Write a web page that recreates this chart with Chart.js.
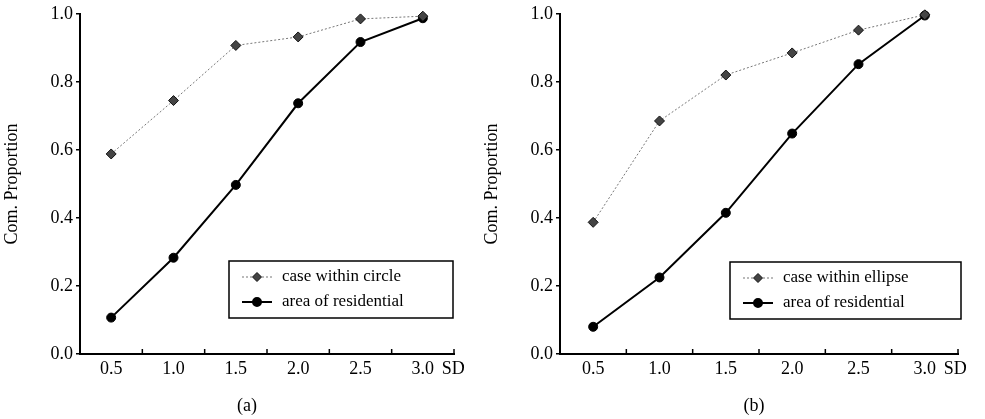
<!DOCTYPE html>
<html>
<head>
<meta charset="utf-8">
<script src="https://cdn.jsdelivr.net/npm/chart.js@4.4.1/dist/chart.umd.min.js"></script>
<style>
  html, body { margin: 0; padding: 0; background: #fff; }
  #wrapA { position: absolute; left: 0; top: 0; width: 480px; height: 419px; }
  #wrapB { position: absolute; left: 480px; top: 0; width: 505px; height: 419px; }
</style>
</head>
<body>
<div id="wrapA"><canvas id="chartA"></canvas></div>
<div id="wrapB"><canvas id="chartB"></canvas></div>
<script>
// values
const sdValues = [0.5, 1.0, 1.5, 2.0, 2.5, 3.0];
const circleCases = [0.588, 0.745, 0.907, 0.932, 0.985, 0.993];
const circleResidential = [0.107, 0.283, 0.497, 0.737, 0.917, 0.987];
const ellipseCases = [0.387, 0.685, 0.820, 0.885, 0.952, 0.997];
const ellipseResidential = [0.080, 0.225, 0.415, 0.648, 0.852, 0.995];
const yTicks = [0, 0.2, 0.4, 0.6, 0.8, 1.0];
const xLabelTicks = [0.5, 1.0, 1.5, 2.0, 2.5, 3.0];
const xMinorTicks = [0.75, 1.25, 1.75, 2.25, 2.75, 3.25];

const FONT = 'Liberation Serif';

const toPoints = vals => vals.map((v, i) => ({ x: sdValues[i], y: v }));

// extra marks: upward minor ticks on x axis, "SD" unit, panel tag, boxed legend
const figureExtras = {
  id: 'figureExtras',
  afterDraw(chart, args, opts) {
    const ctx = chart.ctx;
    const x = chart.scales.x;
    const bottom = chart.chartArea.bottom;
    ctx.save();
    ctx.strokeStyle = '#000';
    ctx.lineWidth = 1.5;
    xMinorTicks.forEach(v => {
      const px = x.getPixelForValue(v);
      ctx.beginPath();
      ctx.moveTo(px, bottom);
      ctx.lineTo(px, bottom - 5);
      ctx.stroke();
    });

    ctx.fillStyle = '#000';
    ctx.font = '18px "' + FONT + '"';
    ctx.textBaseline = 'middle';
    ctx.textAlign = 'left';
    ctx.fillText('SD', x.getPixelForValue(3.0) + 19, bottom + 15);
    ctx.textAlign = 'center';
    ctx.fillText(opts.tag, opts.tagX, 406);

    // legend box
    const lg = opts.legend;
    ctx.font = '17px "' + FONT + '"';
    ctx.lineWidth = 1.5;
    ctx.strokeRect(lg.x, lg.y, lg.w, lg.h);
    chart.data.datasets.forEach((ds, i) => {
      const ly = lg.y + 16 + i * 25;
      ctx.beginPath();
      ctx.setLineDash(ds.borderDash || []);
      ctx.strokeStyle = ds.borderColor;
      ctx.lineWidth = ds.borderWidth;
      ctx.moveTo(lg.x + 13, ly);
      ctx.lineTo(lg.x + 43, ly);
      ctx.stroke();
      ctx.setLineDash([]);
      ctx.fillStyle = ds.pointBackgroundColor;
      ctx.strokeStyle = ds.pointBorderColor;
      Chart.helpers.drawPoint(ctx, {
        pointStyle: ds.pointStyle, radius: ds.pointRadius - 0.5, borderWidth: 1, rotation: 0
      }, lg.x + 28, ly);
      ctx.fillStyle = '#000';
      ctx.textAlign = 'left';
      ctx.fillText(ds.label, lg.x + 53, ly);
    });
    ctx.restore();
  }
};

function makeChart(id, caseLabel, caseVals, resVals, extras, padRight) {
  return new Chart(document.getElementById(id), {
    type: 'line',
    data: {
      datasets: [{
        label: caseLabel,
        data: toPoints(caseVals),
        borderColor: '#777',
        borderWidth: 1,
        borderDash: [2, 2],
        pointStyle: 'rectRot',
        pointRadius: 5,
        pointBackgroundColor: '#444',
        pointBorderColor: '#111',
        pointBorderWidth: 1,
        clip: false
      }, {
        label: 'area of residential',
        data: toPoints(resVals),
        borderColor: '#000',
        borderWidth: 2,
        pointStyle: 'circle',
        pointRadius: 4.5,
        pointBackgroundColor: '#000',
        pointBorderColor: '#000',
        pointBorderWidth: 1,
        clip: false
      }]
    },
    options: {
      responsive: true,
      maintainAspectRatio: false,
      animation: false,
      layout: { padding: { left: 0, right: padRight, top: 13, bottom: 0 } },
      plugins: {
        legend: { display: false },
        tooltip: { enabled: false },
        figureExtras: extras
      },
      scales: {
        x: {
          type: 'linear',
          min: 0.25,
          max: 3.25,
          afterBuildTicks: s => { s.ticks = xLabelTicks.map(v => ({ value: v })); },
          afterFit: s => { s.height = 65; },
          grid: { drawOnChartArea: false, drawTicks: false },
          border: { color: '#000', width: 2 },
          ticks: {
            color: '#000',
            padding: 4,
            maxRotation: 0,
            font: { family: FONT, size: 18 },
            callback: v => v.toFixed(1)
          }
        },
        y: {
          min: 0,
          max: 1,
          afterBuildTicks: s => { s.ticks = yTicks.map(v => ({ value: v })); },
          afterFit: s => { s.width = 80; },
          grid: { drawOnChartArea: false, tickLength: 4, color: '#000', lineWidth: 1.5 },
          border: { color: '#000', width: 2 },
          ticks: {
            color: '#000',
            padding: 3,
            font: { family: FONT, size: 18 },
            callback: v => v.toFixed(1)
          },
          title: {
            display: true,
            text: 'Com. Proportion',
            color: '#000',
            padding: { top: 1, bottom: 0 },
            font: { family: FONT, size: 18 }
          }
        }
      }
    },
    plugins: [figureExtras]
  });
}

makeChart('chartA', 'case within circle', circleCases, circleResidential,
  { tag: '(a)', tagX: 247, legend: { x: 229, y: 261, w: 224, h: 57 } }, 26);
makeChart('chartB', 'case within ellipse', ellipseCases, ellipseResidential,
  { tag: '(b)', tagX: 274, legend: { x: 250, y: 262, w: 231, h: 57 } }, 27);
</script>
</body>
</html>
